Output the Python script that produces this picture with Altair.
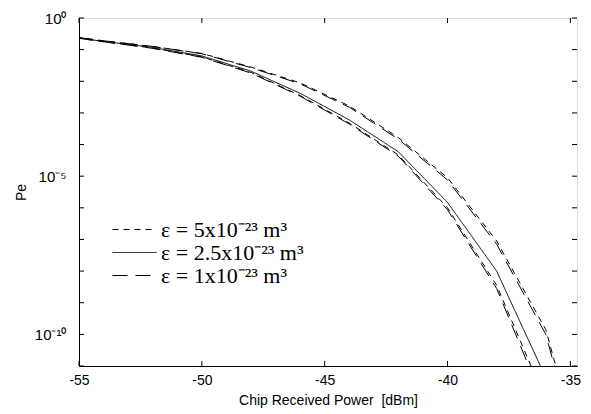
import altair as alt
import pandas as pd

# ---- data ----
x_dbm = [-56, -54, -52, -50, -48, -46, -44, -42, -40, -38, -36, -34]
# log10(Pe) of each curve at x_dbm
left_short_log = [-0.53, -0.75, -0.95, -1.23, -1.72, -2.45, -3.32, -4.33, -6.00, -8.45, -12.1, -16.0]
left_long_log = [-0.53, -0.75, -0.96, -1.24, -1.74, -2.47, -3.35, -4.37, -6.06, -8.55, -12.3, -16.3]
solid_log = [-0.53, -0.74, -0.93, -1.20, -1.68, -2.38, -3.22, -4.23, -5.83, -8.00, -11.37, -15.0]
right_short_log = [-0.52, -0.72, -0.90, -1.12, -1.55, -2.05, -2.78, -3.78, -5.05, -7.05, -9.85, -15.5]
right_long_log = [-0.52, -0.72, -0.90, -1.13, -1.57, -2.08, -2.82, -3.83, -5.12, -7.15, -10.0, -15.7]

eps_labels = ["ε = 5x10⁻²³ m³", "ε = 2.5x10⁻²³ m³", "ε = 1x10⁻²³ m³"]
x_tick_vals = [-55, -50, -45, -40, -35]
y_tick_vals = [1e0, 1e-1, 1e-2, 1e-3, 1e-4, 1e-5, 1e-6, 1e-7, 1e-8, 1e-9, 1e-10, 1e-11]

curves = [
    ("left_short", eps_labels[0], left_short_log),
    ("right_short", eps_labels[0], right_short_log),
    ("solid", eps_labels[1], solid_log),
    ("left_long", eps_labels[2], left_long_log),
    ("right_long", eps_labels[2], right_long_log),
]
rows = []
for cid, lab, logs in curves:
    for xv, lv in zip(x_dbm, logs):
        rows.append({"x": xv, "pe": 10 ** lv, "eps": lab, "curve": cid})
df = pd.DataFrame(rows)

W, H = 498, 348
TICK = 5
X_MIN, X_MAX = -55, -34.73
x_scale = alt.Scale(domain=[X_MIN, X_MAX], nice=False, zero=False)
y_scale = alt.Scale(type="log", domain=[1e-11, 1], nice=False)

FONT = "Liberation Sans"

x_axis = alt.Axis(
    values=x_tick_vals, labelExpr="'' + datum.value", title="Chip Received Power\u00a0 [dBm]",
    ticks=False, tickSize=0, grid=False, labelPadding=7, labelFont=FONT, labelFontSize=14,
    titleFont=FONT, titleFontSize=14, titleFontWeight="normal", titleY=34, titleBaseline="middle",
    domainColor="black", labelColor="black", titleColor="black", labelFlush=False,
)
y_axis = alt.Axis(
    values=y_tick_vals,
    labelExpr="round(log(datum.value)/LN10) == 0 ? '10⁰' : round(log(datum.value)/LN10) == -5 ? '10⁻⁵' : round(log(datum.value)/LN10) == -10 ? '10⁻¹⁰' : ''",
    title="Pe", ticks=False, tickSize=0, grid=False, labelPadding=13, labelFont=FONT, labelFontSize=15,
    titleFont=FONT, titleFontSize=14, titleFontWeight="normal", titleX=-58, titleY=174,
    titleBaseline="middle", titleAlign="center",
    domainColor="black", labelColor="black", titleColor="black", labelFlush=False,
)

lines = alt.Chart(df).mark_line(clip=True, color="black", strokeWidth=1).encode(
    x=alt.X("x:Q", scale=x_scale, axis=x_axis),
    y=alt.Y("pe:Q", scale=y_scale, axis=y_axis),
    strokeDash=alt.StrokeDash(
        "eps:N",
        scale=alt.Scale(domain=eps_labels, range=[[6, 5], [1, 0], [15, 8]]),
        legend=alt.Legend(
            title=None, orient="none", legendX=33, legendY=200,
            symbolType="M-1,0H3", symbolSize=484, symbolStrokeWidth=1, symbolStrokeColor="black",
            labelFont="Liberation Serif", labelFontSize=22, labelColor="black", labelOffset=26,
            rowPadding=0, padding=0,
        ),
    ),
    detail="curve:N",
)

ytick_df = pd.DataFrame({"pe": y_tick_vals})
xtick_df = pd.DataFrame({"x": x_tick_vals})

yticks_left = alt.Chart(ytick_df).mark_rule(color="black", strokeWidth=1).encode(
    y=alt.Y("pe:Q", scale=y_scale), x=alt.value(0), x2=alt.value(TICK))
yticks_right = alt.Chart(ytick_df).mark_rule(color="black", strokeWidth=1).encode(
    y=alt.Y("pe:Q", scale=y_scale), x=alt.value(W - TICK), x2=alt.value(W))
xticks_bottom = alt.Chart(xtick_df).mark_rule(color="black", strokeWidth=1).encode(
    x=alt.X("x:Q", scale=x_scale), y=alt.value(H - TICK), y2=alt.value(H))
xticks_top = alt.Chart(xtick_df).mark_rule(color="black", strokeWidth=1).encode(
    x=alt.X("x:Q", scale=x_scale), y=alt.value(0), y2=alt.value(TICK))

chart = alt.layer(lines, yticks_left, yticks_right, xticks_bottom, xticks_top).properties(
    width=W, height=H,
    autosize=alt.AutoSizeParams(type="none"),
    padding={"left": 71, "top": 10, "right": 6, "bottom": 48},
).configure_view(stroke="black", strokeWidth=1).configure(background="white")

chart.save("out.html", embed_options={"renderer": "svg", "actions": False})
